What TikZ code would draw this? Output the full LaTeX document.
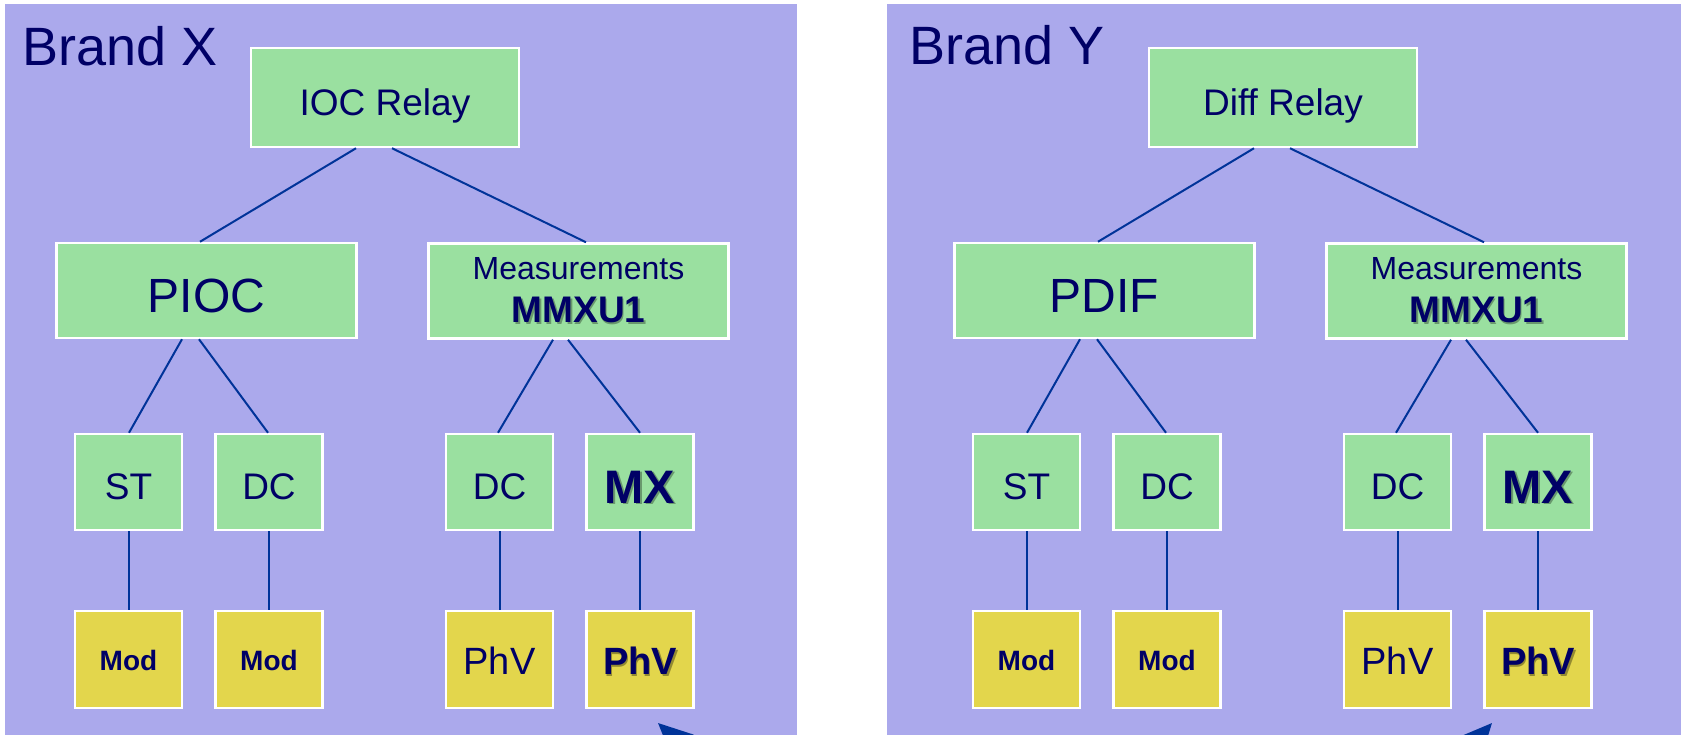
\documentclass[tikz,border=0pt]{standalone}
\usepackage{fontspec}
\setmainfont{Liberation Sans}
\usetikzlibrary{arrows.meta}
\definecolor{panel}{HTML}{ABA9EC}
\definecolor{tint}{HTML}{9AE0A0}
\definecolor{gold}{HTML}{E3D64C}
\definecolor{navy}{HTML}{000066}
\definecolor{wire}{HTML}{003399}
\newcommand\shadowed[2][tint!68!black]{\leavevmode\rlap{\kern1.5pt\raisebox{-1.5pt}{\textcolor{#1}{#2}}}#2}
\tikzset{
  box/.style={draw=white,line width=2.5pt,text=navy,inner sep=0pt,align=center},
  relaybox/.style={box,fill=tint,minimum width=268,minimum height=99,text height=36,text depth=0,font=\fontsize{37}{44}\selectfont},
  fnbox/.style={box,fill=tint,minimum width=300,minimum height=95,text height=44,text depth=0,font=\fontsize{48}{56}\selectfont},
  measbox/.style={box,fill=tint,minimum width=300,minimum height=95,font=\fontsize{32}{43}\selectfont},
  smallbox/.style={box,fill=tint,minimum width=107,minimum height=96,text height=34,text depth=0,font=\fontsize{37}{44}\selectfont},
  goldbox/.style={box,fill=gold,minimum width=107,minimum height=97,text height=30,text depth=0,font=\fontsize{38}{44}\selectfont},
  brand/.style={text=navy,inner sep=0pt,anchor=base west,font=\fontsize{54}{62}\selectfont},
  link/.style={draw=wire,line width=2pt},
  pointer/.style={draw=wire,fill=wire,line width=3pt,-{Triangle[length=34pt,width=31pt]}}
}
\begin{document}
\begin{tikzpicture}[x=1pt,y=-1pt]
\useasboundingbox (0,0) rectangle (1681,735);
\clip (0,0) rectangle (1681,735);
\fill[white] (0,0) rectangle (1681,735);
% the two brand panels
\fill[panel] (5,4) rectangle (797,740);
\fill[panel] (887,4) rectangle (1690,740);
\node[brand] (brandx) at (22,66) {Brand X};
\node[brand] (brandy) at (909,65) {Brand Y};
% one tree per brand
\foreach \p/\dx/\relay/\fn in {x/0/IOC Relay/PIOC, y/898/Diff Relay/PDIF}{
\begin{scope}[xshift=\dx]
\node[relaybox] (\p top) at (385,97.5) {\relay};
\node[fnbox] (\p fn) at (206.5,290.5) {\fn};
\node[measbox] (\p mm) at (578.5,291) {Measurements\\{\fontsize{37}{43}\selectfont\shadowed{\bfseries MMXU1}}};
\node[smallbox] (\p st) at (128.5,482) {ST};
\node[smallbox] (\p dcl) at (269,482) {DC};
\node[smallbox] (\p dcr) at (499.5,482) {DC};
\node[smallbox,text height=42,font=\fontsize{47}{52}\selectfont] (\p mx) at (640,482) {\shadowed{\bfseries MX}};
\node[goldbox,text height=22,font=\fontsize{28}{34}\selectfont\bfseries] (\p modst) at (128.5,659.5) {Mod};
\node[goldbox,text height=22,font=\fontsize{28}{34}\selectfont\bfseries] (\p moddc) at (269,659.5) {Mod};
\node[goldbox] (\p phv) at (499.5,659.5) {PhV};
\node[goldbox] (\p phvb) at (640,659.5) {\shadowed[gold!65!black]{\bfseries PhV}};
\draw[link] ([xshift=-29]\p top.south) -- ([xshift=-6.5]\p fn.north);
\draw[link] ([xshift=7]\p top.south) -- ([xshift=7.5]\p mm.north);
\draw[link] ([xshift=-24.5]\p fn.south) -- ([xshift=0.5]\p st.north);
\draw[link] ([xshift=-7.5]\p fn.south) -- ([xshift=-1]\p dcl.north);
\draw[link] ([xshift=-25.5]\p mm.south) -- ([xshift=-1.5]\p dcr.north);
\draw[link] ([xshift=-10.5]\p mm.south) -- (\p mx.north);
\draw[link] (\p st) -- (\p modst);
\draw[link] (\p dcl) -- (\p moddc);
\draw[link] (\p dcr) -- (\p phv);
\draw[link] (\p mx) -- (\p phvb);
\end{scope}
}
% arrows running in from below
\coordinate (xtail) at (720,781);
\coordinate (xtip) at (658,723);
\coordinate (ytail) at (1437,784);
\coordinate (ytip) at (1492,723);
\draw[pointer] (xtail) -- (xtip);
\draw[pointer] (ytail) -- (ytip);
\end{tikzpicture}
\end{document}
